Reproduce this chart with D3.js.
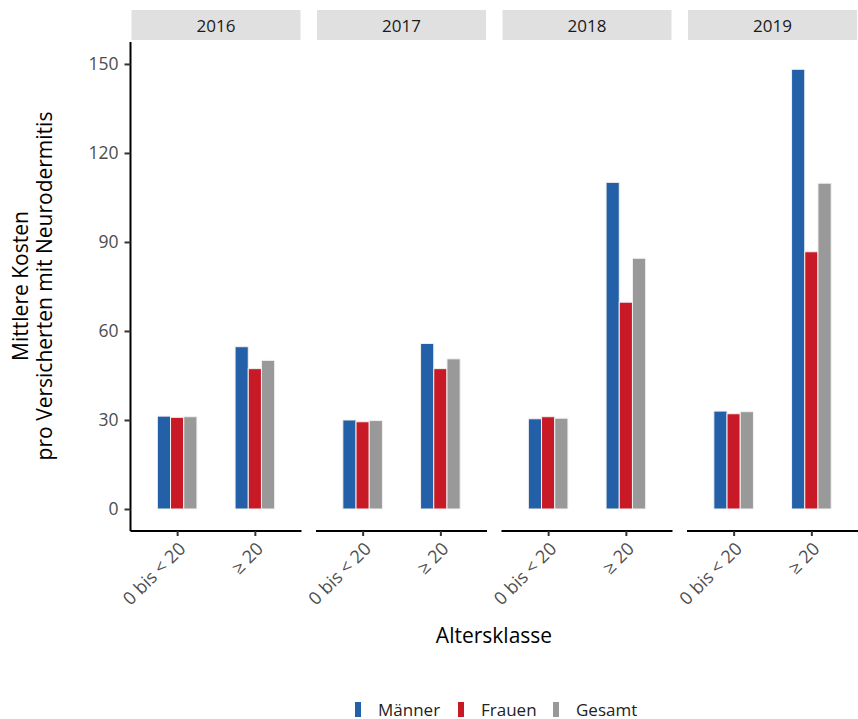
<!DOCTYPE html>
<html><head><meta charset="utf-8">
<script src="https://cdn.jsdelivr.net/npm/d3@7"></script>
<style>body{margin:0;background:#fff;} svg{display:block;}</style>
</head><body>
<svg id="chart" width="858" height="719"></svg>
<script>
const years = ["2016", "2017", "2018", "2019"];
const ageGroups = ["0 bis < 20", "≥ 20"];
const seriesNames = ["Männer", "Frauen", "Gesamt"];
const maenner = [[31.3, 54.7], [30.0, 55.8], [30.4, 110.1], [33.0, 148.2]];
const frauen  = [[30.9, 47.3], [29.4, 47.3], [31.1, 69.7], [32.1, 86.7]];
const gesamt  = [[31.1, 50.1], [29.8, 50.6], [30.6, 84.5], [32.8, 109.8]];
const yTicks = [0, 30, 60, 90, 120, 150];
const colors = ["#2360a8", "#c71926", "#999999"];

const font = "'Open Sans', sans-serif";
const svg = d3.select("#chart");
const panelW = 171, panelStep = 185.5, panelX0 = 130.5;
const plotTop = 42, plotBottom = 531;

const y = d3.scaleLinear().domain([-7.42, 157.4]).range([plotBottom, plotTop]);
const xPanel = d3.scaleBand().domain(years)
  .range([panelX0, panelX0 + panelStep * 4 - (panelStep - panelW)])
  .paddingInner((panelStep - panelW) / panelStep).paddingOuter(0);
const xCat = d3.scalePoint().domain(ageGroups).range([0, panelW]).padding(0.6);
const xSeries = d3.scaleBand().domain(seriesNames).range([-19.8, 19.8]).padding(0);

const data = [maenner, frauen, gesamt];

// y axis on first panel
const yAxis = svg.append("g").attr("transform", `translate(${panelX0},0)`)
  .call(d3.axisLeft(y).tickValues(yTicks).tickSize(6).tickPadding(6));
yAxis.attr("font-size", 17.5).attr("font-family", font);
yAxis.select(".domain").attr("stroke", "#000").attr("stroke-width", 2).attr("d", `M0,${plotTop}V${plotBottom}`);
yAxis.selectAll(".tick line").attr("stroke", "#333").attr("stroke-width", 2);
yAxis.selectAll(".tick text").attr("fill", "#4d4d4d");

years.forEach((yr, pi) => {
  const px = xPanel(yr);
  const g = svg.append("g").attr("transform", `translate(${px},0)`);
  g.append("rect").attr("x", 1).attr("y", 10).attr("width", panelW - 2).attr("height", 30).attr("fill", "#e0e0e0");
  g.append("text").attr("x", panelW / 2).attr("y", 32).attr("text-anchor", "middle")
    .attr("font-family", font).attr("font-size", 17).attr("fill", "#1a1a1a").text(yr);
  ageGroups.forEach((ag, ai) => {
    seriesNames.forEach((s, si) => {
      const v = data[si][pi][ai];
      g.append("rect")
        .attr("x", xCat(ag) + xSeries(s))
        .attr("width", xSeries.bandwidth())
        .attr("y", y(v))
        .attr("height", y(0) - y(v))
        .attr("fill", colors[si])
        .attr("stroke", "#f2f2f2").attr("stroke-width", 1);
    });
  });
  const xa = g.append("g").attr("transform", `translate(0,${plotBottom})`)
    .call(d3.axisBottom(xCat).tickSize(5).tickPadding(3));
  xa.attr("font-size", 18).attr("font-family", font);
  xa.select(".domain").attr("stroke", "#000").attr("stroke-width", 2).attr("d", `M0,0H${panelW}`);
  xa.selectAll(".tick line").attr("stroke", "#333").attr("stroke-width", 2);
  xa.selectAll(".tick text").attr("fill", "#4d4d4d")
    .attr("text-anchor", "end").attr("transform", "translate(0,10) rotate(-45)").attr("dy", "0.71em").attr("y", 0).attr("x", 0);
});

svg.append("text").attr("x", 494).attr("y", 643).attr("text-anchor", "middle")
  .attr("font-family", font).attr("font-size", 21).attr("fill", "#000").text("Altersklasse");
const yt = svg.append("text").attr("transform", `translate(0,286) rotate(-90)`).attr("text-anchor", "middle")
  .attr("font-family", font).attr("font-size", 21).attr("fill", "#000");
yt.append("tspan").attr("x", 0).attr("y", 28).text("Mittlere Kosten");
yt.append("tspan").attr("x", 0).attr("y", 52).text("pro Versicherten mit Neurodermitis");

const legX = [355, 458, 553];
seriesNames.forEach((s, i) => {
  svg.append("rect").attr("x", legX[i]).attr("y", 702).attr("width", 6).attr("height", 15).attr("fill", colors[i]);
  svg.append("text").attr("x", legX[i] + 23).attr("y", 715.5).attr("font-family", font).attr("font-size", 17)
    .attr("fill", "#222").text(s);
});
</script>
</body></html>
